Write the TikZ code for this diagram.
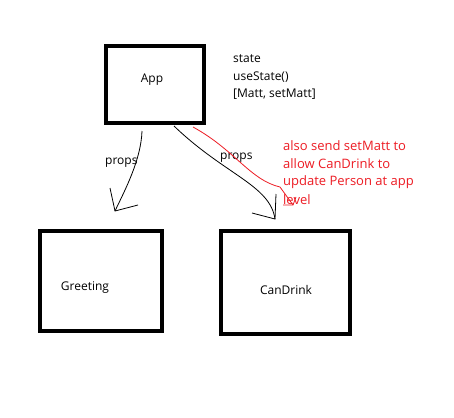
\documentclass[tikz,border=0pt]{standalone}
\usepackage{fontspec}
\setmainfont{Open Sans}
\definecolor{paintred}{RGB}{237,28,36}
\begin{document}
\begin{tikzpicture}[x=1pt,y=-1pt,
  comp/.style={draw, line width=4.5pt, inner sep=0pt},
  txt/.style={font=\fontsize{12}{14}\selectfont, inner sep=0pt},
  note/.style={txt, anchor=west},
  rednote/.style={font=\fontsize{13}{18}\selectfont, inner sep=0pt, anchor=west, text=paintred},
  hand/.style={line width=0.8pt}]
 		
 		\useasboundingbox (0,0) rectangle (454,417);
 		\fill[white] (0,0) rectangle (454,417);
 		
 		% Draw the component boxes
 		\node[comp, minimum width=98pt, minimum height=77pt] (app) at (155,84.5) {};
 		\node[comp, minimum width=122pt, minimum height=100pt] (greeting) at (101,281) {};
 		\node[comp, minimum width=129pt, minimum height=103pt] (candrink) at (285.5,282.5) {};
 		
 		% Draw the labels
 		\node[txt] (applabel) at (152,80) {App};
 		\node[txt] (greetinglabel) at (85,288) {Greeting};
 		\node[txt] (candrinklabel) at (286,290) {CanDrink};
 		
 		% State of App
 		\node[note] (state) at (233,59) {state};
 		\node[note] (usestate) at (233,77) {useState()};
 		\node[note] (matt) at (233,94) {[Matt, setMatt]};
 		
 		% Props arrow to Greeting
 		\coordinate (gstart) at (142,131);
 		\coordinate (gtip) at (115,211);
 		\coordinate (ghead1) at (110,188);
 		\coordinate (ghead2) at (138,205);
 		\draw[hand] (gstart) .. controls (141,160) and (125,190) .. (gtip);
 		\draw[hand] (ghead1) -- (gtip) -- (ghead2);
 		\node[note] (gprops) at (105,163) {props};
 		
 		% Props arrow to CanDrink
 		\coordinate (cstart) at (174,126);
 		\coordinate (ctip) at (275,219);
 		\coordinate (chead1) at (276,194);
 		\coordinate (chead2) at (252,213);
 		\draw[hand] (cstart) .. controls (225,175) and (270,185) .. (ctip);
 		\draw[hand] (chead1) -- (ctip) -- (chead2);
 		\node[note] (cprops) at (220,158) {props};
 		
 		% Red arrow, setMatt passed down
 		\coordinate (rstart) at (193,127);
 		\coordinate (rbend) at (280,187);
 		\coordinate (rtip) at (293,205);
 		\draw[hand, paintred] (rstart) .. controls (235,150) and (250,180) .. (rbend) -- (rtip);
 		\draw[hand, paintred] (283,205) -- (rtip) -- (296,197);
 		\node[rednote] (red1) at (283,146) {also send setMatt to};
 		\node[rednote] (red2) at (283,164) {allow CanDrink to};
 		\node[rednote] (red3) at (283,182) {update Person at app};
 		\node[rednote] (red4) at (283,200) {level};
 		
 	\end{tikzpicture}
\end{document}
